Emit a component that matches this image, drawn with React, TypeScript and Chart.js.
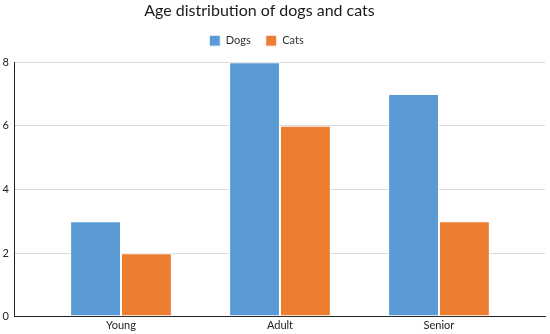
import React, { useEffect, useRef } from "react";
import { Chart, registerables } from "chart.js";

Chart.register(...registerables);

const categories = ["Young", "Adult", "Senior"];
const dogs = [3, 8, 7];
const cats = [2, 6, 3];
const yTicks = [0, 2, 4, 6, 8];

const FONT = "Lato, 'DejaVu Sans', sans-serif";

const headerTweak = {
  id: "headerTweak",
  beforeUpdate(chart: any) {
    const lg = chart.legend;
    if (lg && !lg.__patched) {
      const orig = lg.fit;
      lg.fit = function (this: any) {
        orig.call(this);
        this.height += 6;
      };
      lg.__patched = true;
    }
  },
  afterLayout(chart: any) {
    const t = chart.titleBlock;
    if (t) {
      t.left -= 13;
      t.right -= 13;
    }
    const lg = chart.legend;
    if (lg) {
      lg.left -= 16;
      lg.right -= 16;
    }
  },
};

export default function App() {
  const ref = useRef<HTMLCanvasElement | null>(null);

  useEffect(() => {
    const canvas = ref.current;
    if (!canvas) return;
    const chart = new Chart(canvas, {
      type: "bar",
      data: {
        datasets: [
          {
            label: "Dogs",
            data: dogs.map((v, i) => ({ x: i, y: v })),
            backgroundColor: "#5b9bd5",
            borderColor: "#ffffff",
            borderWidth: 1,
            borderSkipped: false,
          },
          {
            label: "Cats",
            data: cats.map((v, i) => ({ x: i, y: v })),
            backgroundColor: "#ed7d31",
            borderColor: "#ffffff",
            borderWidth: 1,
            borderSkipped: false,
          },
        ],
      },
      plugins: [headerTweak],
      options: {
        animation: false,
        responsive: false,
        maintainAspectRatio: false,
        layout: { padding: { left: 0, right: 5, top: 1, bottom: 0 } },
        categoryPercentage: 0.64,
        barPercentage: 1,
        plugins: {
          title: {
            display: true,
            text: "Age distribution of dogs and cats",
            color: "#1a1a1a",
            font: { family: FONT, size: 16, weight: "normal" },
            padding: { top: 0, bottom: 0 },
          },
          legend: {
            display: true,
            labels: {
              boxWidth: 11,
              boxHeight: 11,
              padding: 15,
              color: "#333",
              font: { family: FONT, size: 11 },
            },
          },
          tooltip: { enabled: false },
        },
        scales: {
          x: {
            type: "linear",
            offset: false,
            bounds: "data",
            min: -0.673,
            max: 2.667,
            afterBuildTicks: (scale: any) => {
              scale.ticks = categories.map((_, i) => ({ value: i }));
            },
            ticks: {
              callback: (v: any) => categories[v as number] ?? "",
              color: "#222",
              font: { family: FONT, size: 11 },
              padding: 2,
              maxRotation: 0,
            },
            grid: { display: false, drawTicks: false, offset: false },
            border: { display: true, color: "#222", width: 1 },
          },
          y: {
            min: 0,
            max: 8,
            afterBuildTicks: (scale: any) => {
              scale.ticks = yTicks.map((v) => ({ value: v }));
            },
            afterFit: (scale: any) => {
              scale.width = 14;
            },
            ticks: {
              color: "#222",
              font: { family: FONT, size: 11 },
              padding: 5,
            },
            grid: { color: "#d9d9d9", drawTicks: false },
            border: { display: true, color: "#222", width: 1 },
          },
        },
      },
    });
    return () => chart.destroy();
  }, []);

  return (
    <div style={{ position: "absolute", left: 0, top: 0, width: 550, height: 334, background: "#fff" }}>
      <canvas ref={ref} width={550} height={334} style={{ width: 550, height: 334 }} />
    </div>
  );
}
